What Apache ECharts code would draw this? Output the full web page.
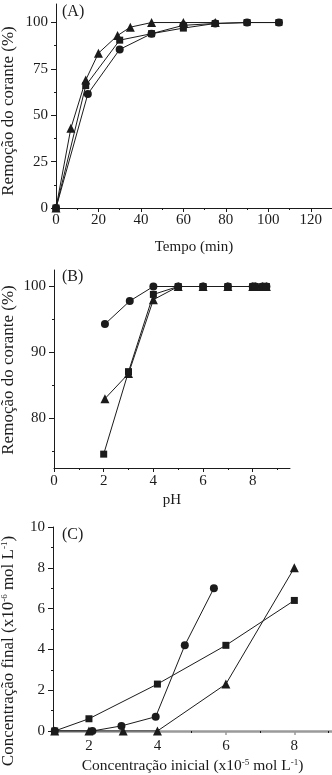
<!DOCTYPE html>
<html>
<head>
<meta charset="utf-8">
<script src="https://cdn.jsdelivr.net/npm/echarts@6/dist/echarts.min.js"></script>
<style>
html,body{margin:0;padding:0;background:#fff;}
#chart{width:332px;height:775px;}
</style>
</head>
<body>
<div id="chart"></div>
<script>
// ---------- Panel A: removal vs time ----------
const tempoTri = [0, 7, 14, 20, 29, 35, 45, 60, 75];
const remTriA  = [0, 43, 69, 83.5, 93, 97.5, 100, 100, 100];
const tempoSq  = [0, 14, 30, 45, 60, 75, 90, 105];
const remSqA   = [0, 66, 90.5, 94, 97, 99.5, 100, 100];
const tempoCir = [0, 15, 30, 45, 60, 75, 90, 105];
const remCirA  = [0, 61.5, 85.5, 94, 98.5, 99.5, 100, 100];
const aXMajor = [0, 20, 40, 60, 80, 100, 120];
const aXMinor = [10, 30, 50, 70, 90, 110];
const aYMajor = [0, 25, 50, 75, 100];
const aYMinor = [12.5, 37.5, 62.5, 87.5];

// ---------- Panel B: removal vs pH ----------
const phCir   = [2.05, 3.05, 4, 5, 6, 7, 8, 8.1, 8.4, 8.55];
const remCirB = [94.3, 97.8, 100, 100, 100, 100, 100, 100, 100, 100];
const phSq    = [2, 3, 4, 5, 6, 7, 8, 8.1, 8.4, 8.55];
const remSqB  = [74.6, 87.1, 98.8, 100, 100, 100, 100, 100, 100, 100];
const phTri   = [2.05, 3, 4, 5, 6, 7, 8, 8.1, 8.4, 8.55];
const remTriB = [83.0, 86.8, 98.0, 100, 100, 100, 100, 100, 100, 100];
const bXMajor = [0, 2, 4, 6, 8];
const bXMinor = [1, 3, 5, 7, 9];
const bYMajor = [80, 90, 100];
const bYMinor = [75, 85, 95];

// ---------- Panel C: final vs initial concentration ----------
const ciSq  = [1, 2, 4, 6, 8];
const cfSq  = [0, 0.6, 2.3, 4.2, 6.4];
const ciCir = [1, 2.1, 2.95, 3.95, 4.8, 5.65];
const cfCir = [0, 0, 0.25, 0.7, 4.2, 7.0];
const ciTri = [1, 2, 3, 4, 6, 8];
const cfTri = [0, 0, 0, 0, 2.3, 8.0];
const cXMajor = [2, 4, 6, 8];
const cXMinor = [1, 3, 5, 7, 9];
const cYMajor = [0, 2, 4, 6, 8, 10];
const cYMinor = [1, 3, 5, 7, 9];

const FONT = '"Liberation Serif", "Times New Roman", serif';
const INK = '#1b1b1b';

function pairs(xs, ys){ return xs.map((x,i)=>[x, ys[i]]); }

function mainAxis(opts){
  return Object.assign({
    type: 'value',
    splitLine: {show:false},
    axisLine: {show:true, onZero:false, lineStyle:{color:INK, width:1}},
    axisTick: {show:true, length:4, lineStyle:{color:INK}},
    axisLabel: {color:INK, fontFamily:FONT, fontSize:15},
    nameTextStyle: {color:INK, fontFamily:FONT, fontSize:15}
  }, opts);
}
function minorAxis(opts, vals){
  return Object.assign({
    type: 'value',
    splitLine: {show:false},
    axisLine: {show:false, onZero:false},
    axisTick: {show:true, length:2, customValues: vals, lineStyle:{color:INK}},
    axisLabel: {show:false}
  }, opts);
}

const supRich = {
  sup: {fontSize: 9, fontFamily: FONT, color: INK, verticalAlign: 'top', padding:[0,0,6,0]}
};

const xAxes = [
  mainAxis({gridIndex:0, position:'bottom', min:0, max:130, name:'Tempo (min)', nameLocation:'middle', nameGap:32,
    axisTick:{show:true, length:4, customValues:aXMajor, lineStyle:{color:INK}},
    axisLabel:{color:INK, fontFamily:FONT, fontSize:15, margin:5, customValues:aXMajor}}),
  minorAxis({gridIndex:0, position:'bottom', min:0, max:130}, aXMinor),
  mainAxis({gridIndex:1, position:'bottom', min:0, max:9.5, name:'pH', nameLocation:'middle', nameGap:25,
    axisTick:{show:true, length:4, customValues:bXMajor, lineStyle:{color:INK}},
    axisLabel:{color:INK, fontFamily:FONT, fontSize:15, margin:6, customValues:bXMajor}}),
  minorAxis({gridIndex:1, position:'bottom', min:0, max:9.5}, bXMinor),
  mainAxis({gridIndex:2, position:'bottom', min:0.95, max:9.1,
    name:'Concentração inicial (x10{sup|-5} mol L{sup|-1})', nameLocation:'middle', nameGap:27,
    nameTextStyle:{color:INK, fontFamily:FONT, fontSize:15.5, rich:supRich},
    axisLine:{show:true, onZero:false, lineStyle:{color:'#9a9a9a', width:2.5}},
    axisTick:{show:true, length:4, customValues:cXMajor, lineStyle:{color:'#9a9a9a', width:1.5}},
    axisLabel:{color:INK, fontFamily:FONT, fontSize:15, margin:8, customValues:cXMajor}}),
  minorAxis({gridIndex:2, position:'bottom', min:0.95, max:9.1}, cXMinor)
];

const yAxes = [
  mainAxis({gridIndex:0, position:'left', min:0, max:110,
    axisTick:{show:true, length:5, customValues:aYMajor, lineStyle:{color:INK}},
    axisLabel:{color:INK, fontFamily:FONT, fontSize:15, margin:8, customValues:aYMajor}}),
  minorAxis({gridIndex:0, position:'left', min:0, max:110}, aYMinor),
  mainAxis({gridIndex:1, position:'left', min:72.5, max:102.5,
    axisTick:{show:true, length:5, customValues:bYMajor, lineStyle:{color:INK}},
    axisLabel:{color:INK, fontFamily:FONT, fontSize:15, margin:8, customValues:bYMajor}}),
  minorAxis({gridIndex:1, position:'left', min:72.5, max:102.5}, bYMinor),
  mainAxis({gridIndex:2, position:'left', min:0, max:10,
    axisTick:{show:true, length:5, customValues:cYMajor, lineStyle:{color:INK}},
    axisLabel:{color:INK, fontFamily:FONT, fontSize:15, margin:8, customValues:cYMajor}}),
  minorAxis({gridIndex:2, position:'left', min:0, max:10}, cYMinor)
];

function ser(name, xi, yi, data, symbol, size){
  return {
    name, type:'line', xAxisIndex:xi, yAxisIndex:yi, data,
    symbol, symbolSize:size, showSymbol:true, animation:false,
    lineStyle:{color:INK, width:1}, itemStyle:{color:INK}
  };
}

const option = {
  backgroundColor:'#fff',
  animation:false,
  grid: [
    {left:56, top:4, width:276, height:204},
    {left:54, top:270, width:236, height:198},
    {left:53, top:527, width:279, height:204}
  ],
  xAxis: xAxes,
  yAxis: yAxes,
  series: [
    ser('A círculo', 0, 0, pairs(tempoCir, remCirA), 'circle', 8),
    ser('A quadrado', 0, 0, pairs(tempoSq, remSqA), 'rect', 7),
    ser('A triângulo', 0, 0, pairs(tempoTri, remTriA), 'triangle', 9),
    ser('B círculo', 2, 2, pairs(phCir, remCirB), 'circle', 8),
    ser('B triângulo', 2, 2, pairs(phTri, remTriB), 'triangle', 9),
    ser('B quadrado', 2, 2, pairs(phSq, remSqB), 'rect', 7),
    ser('C quadrado', 4, 4, pairs(ciSq, cfSq), 'rect', 7),
    ser('C círculo', 4, 4, pairs(ciCir, cfCir), 'circle', 8),
    ser('C triângulo', 4, 4, pairs(ciTri, cfTri), 'triangle', 9)
  ],
  graphic: [
    {type:'text', left:62, top:4, style:{text:'(A)', font:'16px '+FONT, fill:INK}},
    {type:'text', left:62, top:269, style:{text:'(B)', font:'16px '+FONT, fill:INK}},
    {type:'text', left:62, top:527, style:{text:'(C)', font:'16px '+FONT, fill:INK}},
    {type:'text', x:9, y:111, rotation:Math.PI/2,
      style:{text:'Remoção do corante (%)', font:'17px '+FONT, fill:INK, align:'center', verticalAlign:'middle'}},
    {type:'text', x:9, y:370, rotation:Math.PI/2,
      style:{text:'Remoção do corante (%)', font:'17px '+FONT, fill:INK, align:'center', verticalAlign:'middle'}},
    {type:'text', x:9, y:651, rotation:Math.PI/2,
      style:{text:'Concentração final (x10{sup|-6} mol L{sup|-1})', font:'17px '+FONT, fill:INK,
        align:'center', verticalAlign:'middle', rich:supRich}}
  ]
};

const chart = echarts.init(document.getElementById('chart'), null, {renderer:'canvas'});
chart.setOption(option);
</script>
</body>
</html>
